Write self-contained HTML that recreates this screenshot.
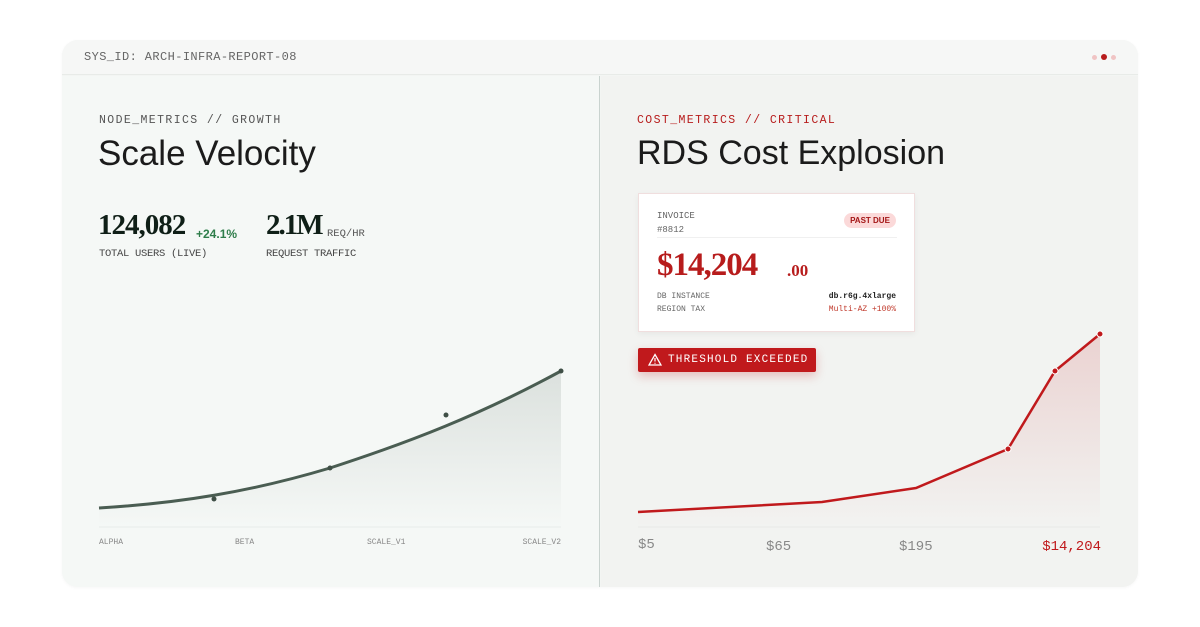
<!DOCTYPE html>
<html><head><meta charset="utf-8"><style>
*{margin:0;padding:0;box-sizing:border-box}
body{width:1200px;height:627px;background:#fff;position:relative;overflow:hidden;font-family:"Liberation Sans",sans-serif}
.card{position:absolute;left:62px;top:40px;width:1076px;height:547px;border-radius:16px;background:#f3f5f3;overflow:hidden;box-shadow:0 1px 3px rgba(0,0,0,.04)}
.hdr{position:absolute;left:0;top:0;width:100%;height:35px;background:#f6f7f6;border-bottom:1px solid #e8ebe8}
.mono{font-family:"Liberation Mono",monospace}
.abs{position:absolute;white-space:nowrap}
.lp{position:absolute;left:0;top:36px;width:538px;height:511px;background:#f5f8f6;border-right:1px solid #c9d3cf}
.rp{position:absolute;left:539px;top:36px;width:537px;height:511px;background:#f2f3f1}
.serif{font-family:"Liberation Serif",serif;font-weight:bold}
</style></head><body>
<div class="card">
<div class="hdr"><div class="abs mono" style="left:22px;top:10px;font-size:12px;color:#666;letter-spacing:.4px">SYS_ID: ARCH-INFRA-REPORT-08</div>
<div class="abs" style="left:1030px;top:15px;width:5px;height:5px;border-radius:50%;background:#f0c4c4"></div>
<div class="abs" style="left:1039px;top:14px;width:6px;height:6px;border-radius:50%;background:#b71c1c"></div>
<div class="abs" style="left:1049px;top:15px;width:5px;height:5px;border-radius:50%;background:#f0c4c4"></div>
</div>
<div class="lp"></div><div class="rp"></div>
</div>
<div class="abs mono" style="left:99px;top:114px;font-size:11.5px;color:#555;letter-spacing:1.4px">NODE_METRICS // GROWTH</div>
<div class="abs" style="left:98px;top:134px;font-size:35px;color:#1b1b1b">Scale Velocity</div>
<div class="abs serif" style="left:98px;top:209px;font-size:29px;color:#0f1f17;letter-spacing:-1px">124,082</div>
<div class="abs" style="left:196px;top:227px;font-size:12px;color:#2e7d4a;font-weight:bold">+24.1%</div>
<div class="abs serif" style="left:266px;top:209px;font-size:29px;color:#0f1f17;letter-spacing:-2px">2.1M</div>
<div class="abs mono" style="left:327px;top:228px;font-size:10.5px;color:#555">REQ/HR</div>
<div class="abs mono" style="left:99px;top:248px;font-size:10.5px;color:#444;letter-spacing:-.3px">TOTAL USERS (LIVE)</div>
<div class="abs mono" style="left:266px;top:248px;font-size:10.5px;color:#444;letter-spacing:-.3px">REQUEST TRAFFIC</div>

<div class="abs mono" style="left:637px;top:114px;font-size:11.5px;color:#b71c1c;letter-spacing:1.4px">COST_METRICS // CRITICAL</div>
<div class="abs" style="left:637px;top:134px;font-size:34px;color:#1b1b1b">RDS Cost Explosion</div>

<div class="abs" style="left:638px;top:193px;width:277px;height:139px;background:#fff;border:1px solid #f0dede;box-shadow:0 2px 6px rgba(0,0,0,.05)">
<div class="abs mono" style="left:18px;top:15px;font-size:9px;color:#666;line-height:14px">INVOICE<br>#8812</div>
<div class="abs" style="left:205px;top:19px;width:52px;height:15px;border-radius:8px;background:#fbd9d9;color:#a31515;font-size:8px;font-weight:bold;text-align:center;line-height:15px">PAST DUE</div>
<div class="abs" style="left:18px;top:43px;width:240px;height:1px;background:#f0f0f0"></div>
<div class="abs serif" style="left:18px;top:53px;font-size:33px;color:#b71c1c;letter-spacing:-1px">$14,204</div>
<div class="abs serif" style="left:148px;top:67px;font-size:17px;color:#b71c1c">.00</div>
<div class="abs mono" style="left:18px;top:96px;font-size:8px;color:#666;line-height:13px">DB INSTANCE<br>REGION TAX</div>
<div class="abs mono" style="right:18px;top:96px;font-size:8px;line-height:13px;text-align:right"><b style="color:#222">db.r6g.4xlarge</b><br><span style="color:#c0392b">Multi-AZ +100%</span></div>
</div>
<div class="abs mono" style="left:638px;top:348px;width:178px;height:24px;background:#c0191c;border-radius:2px;color:#fff;font-size:11px;letter-spacing:1.2px;line-height:24px;padding-left:30px;box-shadow:0 4px 10px rgba(192,25,28,.25)">THRESHOLD EXCEEDED</div>
<svg class="abs" style="left:648px;top:353px" width="14" height="13"><path d="M7 1.5L13 12H1Z" fill="none" stroke="#fff" stroke-width="1.3"/><path d="M7 5v3.5M7 9.8v1" stroke="#fff" stroke-width="1.2"/></svg>

<svg class="abs" style="left:0;top:0" width="1200" height="627">
<defs>
<linearGradient id="g1" x1="0" y1="0" x2="0" y2="1"><stop offset="0" stop-color="#4a5d52" stop-opacity=".15"/><stop offset="1" stop-color="#4a5d52" stop-opacity="0"/></linearGradient>
<linearGradient id="g2" x1="0" y1="0" x2="0" y2="1"><stop offset="0" stop-color="#c0191c" stop-opacity=".15"/><stop offset="1" stop-color="#c0191c" stop-opacity="0"/></linearGradient>
</defs>
<path d="M99 508 C180 503 250 492 330 468 C410 442 480 415 561 371 L561 527 L99 527Z" fill="url(#g1)"/>
<path d="M99 508 C180 503 250 492 330 468 C410 442 480 415 561 371" fill="none" stroke="#4a5d52" stroke-width="3"/>
<line x1="99" y1="527" x2="561" y2="527" stroke="#e8ede9"/>
<g fill="#3f4f46"><circle cx="214" cy="499" r="2.5"/><circle cx="330" cy="468" r="2.5"/><circle cx="446" cy="415" r="2.5"/><circle cx="561" cy="371" r="2.5"/></g>
<g font-family="Liberation Mono,monospace" font-size="8" fill="#888"><text x="99" y="544">ALPHA</text><text x="235" y="544">BETA</text><text x="367" y="544">SCALE_V1</text><text x="561" y="544" text-anchor="end">SCALE_V2</text></g>
<path d="M638 512 L822 502 L916 488 L1008 449 L1055 371 L1100 334 L1100 527 L638 527Z" fill="url(#g2)"/>
<path d="M638 512 L822 502 L916 488 L1008 449 L1055 371 L1100 334" fill="none" stroke="#c0191c" stroke-width="2.5"/>
<g fill="#c0191c" stroke="#fff" stroke-width="1"><circle cx="1008" cy="449" r="3"/><circle cx="1055" cy="371" r="3"/><circle cx="1100" cy="334" r="3"/></g>
<line x1="638" y1="527" x2="1100" y2="527" stroke="#e8e8e6"/>
<g font-family="Liberation Mono,monospace" font-size="14" fill="#888"><text x="638" y="548">$5</text><text x="766" y="550">$65</text><text x="899" y="550">$195</text><text x="1101" y="550" text-anchor="end" fill="#c0191c">$14,204</text></g>
</svg>
</body></html>
